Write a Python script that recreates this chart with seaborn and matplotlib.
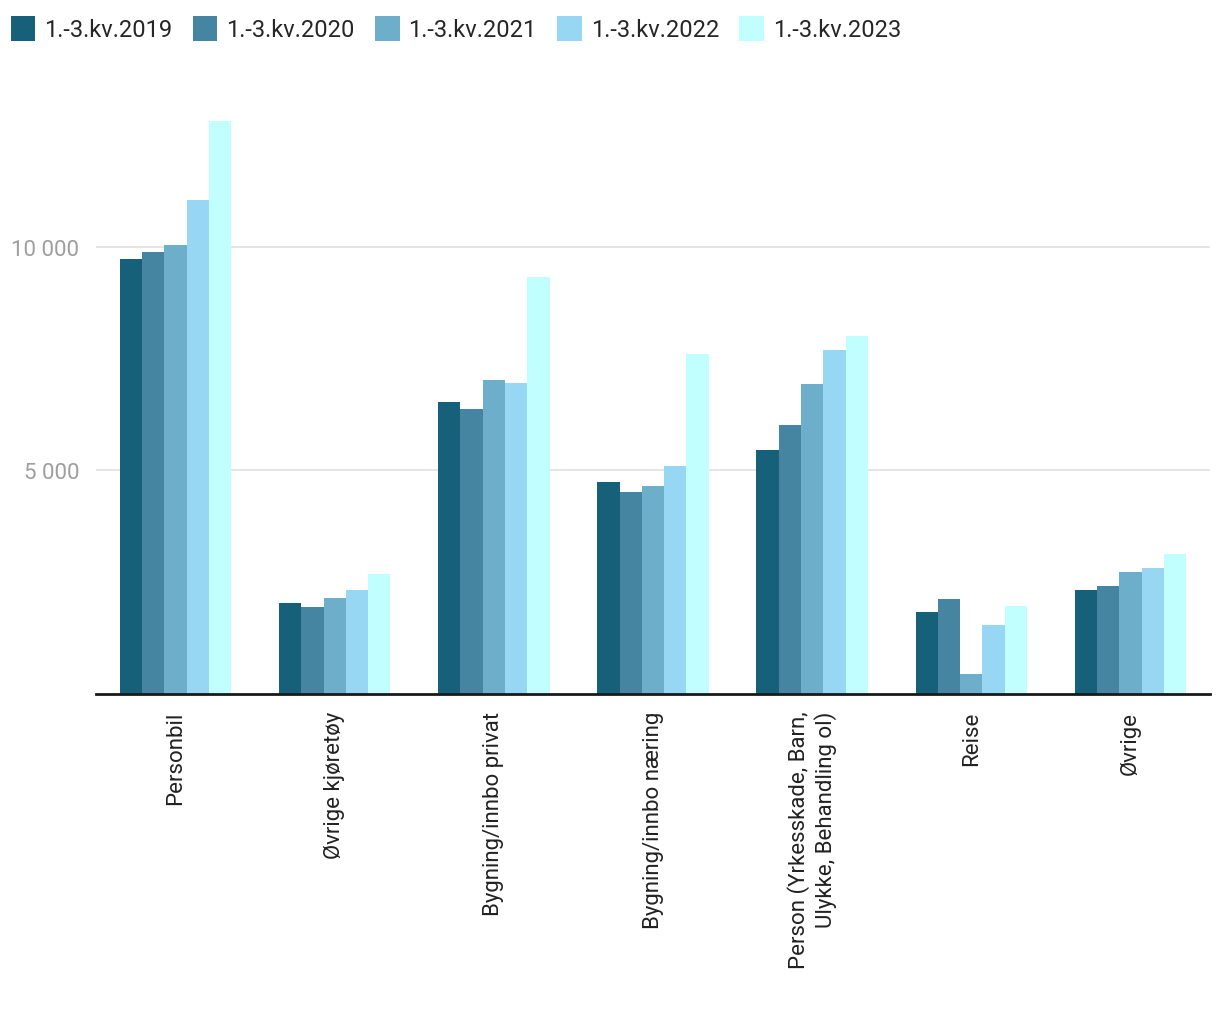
import pandas as pd
import numpy as np
import matplotlib
matplotlib.use("Agg")
import matplotlib.pyplot as plt
import seaborn as sns
from matplotlib.ticker import FuncFormatter

categories = ["Personbil", "Øvrige kjøretøy", "Bygning/innbo privat", "Bygning/innbo næring",
              "Person (Yrkesskade, Barn,\nUlykke, Behandling ol)", "Reise", "Øvrige"]
years = ["1.-3.kv.2019", "1.-3.kv.2020", "1.-3.kv.2021", "1.-3.kv.2022", "1.-3.kv.2023"]

v2019 = [9730, 2040, 6530, 4740, 5460, 1830, 2330]
v2020 = [9870, 1950, 6380, 4520, 6020, 2130, 2420]
v2021 = [10040, 2150, 7020, 4650, 6940, 450, 2730]
v2022 = [11050, 2330, 6960, 5100, 7700, 1540, 2820]
v2023 = [12800, 2680, 9330, 7610, 8010, 1970, 3130]

colors = ["#17607a", "#4585a2", "#6daeca", "#98d7f3", "#c0fffd"]

rows = []
for yr, vals in zip(years, [v2019, v2020, v2021, v2022, v2023]):
    for c, v in zip(categories, vals):
        rows.append({"kategori": c, "periode": yr, "verdi": v})
df = pd.DataFrame(rows)

sns.set_style("white")
plt.rcParams["font.family"] = ["Roboto", "DejaVu Sans"]

fig = plt.figure(figsize=(12.2, 10.2), dpi=100)
ax = fig.add_axes([96 / 1220, 325 / 1020, 1114 / 1220, 595 / 1020])

sns.barplot(data=df, x="kategori", y="verdi", hue="periode", palette=colors,
            width=0.7, gap=0, saturation=1, linewidth=0, edgecolor="none",
            ax=ax, legend=True)

ax.set_xlim(-0.5, 6.5)
ax.set_ylim(0, 13300)
ax.set_yticks([5000, 10000])
ax.yaxis.set_major_formatter(FuncFormatter(lambda v, p: f"{int(v):,}".replace(",", " ")))
ax.grid(axis="y", color="#e0e0e0", linewidth=1.2)
ax.set_axisbelow(True)
for s in ["left", "right", "top"]:
    ax.spines[s].set_visible(False)
ax.spines["bottom"].set_color("#1a1a1a")
ax.spines["bottom"].set_linewidth(2)
ax.tick_params(axis="y", length=0, pad=12, labelsize=16, labelcolor="#9e9e9e")
ax.tick_params(axis="x", length=0, pad=12, labelsize=16, labelcolor="#222222")
plt.setp(ax.get_xticklabels(), rotation=90, multialignment="right")
ax.set_xlabel("")
ax.set_ylabel("")

handles, labels = ax.get_legend_handles_labels()
ax.legend_.remove()
fig.legend(handles, labels, loc="upper left", bbox_to_anchor=(0.0, 0.994), ncol=5,
           frameon=False, fontsize=17, handlelength=1.05, handleheight=1.25,
           handletextpad=0.38, columnspacing=0.85, borderaxespad=0.0, borderpad=0.45)

fig.savefig("out.png", dpi=100)
